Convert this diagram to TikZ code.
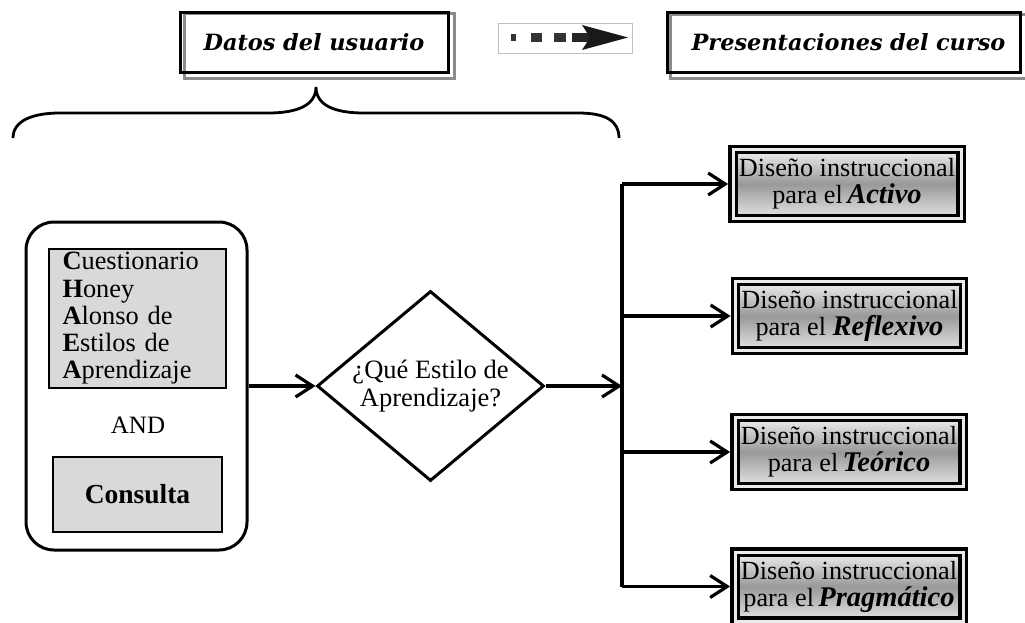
\documentclass[tikz,border=0pt]{standalone}
\usepackage{fontspec}
\setmainfont{Liberation Serif}
\newfontfamily\hdrfont{DejaVu Serif}
\usetikzlibrary{arrows.meta,shapes.geometric,backgrounds}
\newcommand\bwd[1]{{\fontsize{28.5}{29}\selectfont\bfseries\itshape #1}}
\begin{document}
\begin{tikzpicture}[x=1pt,y=-1pt,
  line/.style={line width=3.2pt},
  arr/.style={line width=3.2pt,-{Straight Barb[length=17pt,width=22pt,line width=3.2pt]}},
  hdrbox/.style={draw,line width=3pt,minimum height=60pt,inner sep=0pt,
    font=\hdrfont\fontsize{22.4}{24}\selectfont\bfseries\itshape},
  shadowline/.style={draw=black!45,line width=2.4pt},
  graybox/.style={draw,line width=2.4pt,fill=black!15},
  dbox/.style={draw,line width=3.4pt,double=black!8,double distance=3pt,outer sep=4.9pt,
    top color=black!6,bottom color=black!10,middle color=black!40,
    minimum width=228pt,minimum height=69pt,align=center,inner sep=0pt,
    font=\fontsize{26.2}{27}\selectfont}
]
\useasboundingbox (0,0) rectangle (1025,622);

% header boxes
\node[hdrbox,minimum width=268pt] (datos) at (314,42) {Datos del usuario};
\node[hdrbox,minimum width=353pt,text width=353pt,align=center] (pres) at (843.5,42) {\hspace*{10pt}Presentaciones del curso};
\begin{scope}[on background layer]
  \draw[shadowline] ([xshift=6pt,yshift=-3pt]datos.north west) rectangle ([xshift=5pt,yshift=-5pt]datos.south east);
  \draw[shadowline] ([xshift=5pt,yshift=-4pt]pres.north west) rectangle ([xshift=10pt,yshift=-5pt]pres.south east);
\end{scope}

% dashed arrow icon
\draw[black!25,line width=0.8pt] (498,23) rectangle (632,53);
\fill[black!80] (511,34) rectangle (516,41);
\fill[black!80] (531,33) rectangle (542,42);
\fill[black!80] (554,33) rectangle (566,42);
\fill[black!85] (572,33) rectangle (592,42);
\fill[black!90] (582,25) -- (628,37.5) -- (582,50) -- (590,37.5) -- cycle;

% brace
\draw[line width=2.8pt] (13,138) .. controls (13,121) and (32,113) .. (60,113) -- (268,113)
  .. controls (296,113) and (316,106) .. (316,87)
  .. controls (316,106) and (336,113) .. (364,113) -- (578,113)
  .. controls (606,113) and (619,121) .. (619,138);

% left group
\node[draw,line width=3pt,rounded corners=28pt,minimum width=221pt,minimum height=328pt] (outer) at (136.5,386) {};
\node[graybox,minimum width=177pt,minimum height=139pt,text width=150pt,align=left,
  font=\fontsize{26.4}{27.25}\selectfont] (ques) at (137.5,318.5)
  {\textbf{C}uestionario\\\textbf{H}oney\\\textbf{A}lonso de\\\textbf{E}stilos de\\\textbf{A}prendizaje};
\node[font=\fontsize{25}{27}\selectfont] (and) at (138,425) {AND};
\node[graybox,minimum width=169pt,minimum height=75pt,font=\fontsize{27.5}{28}\selectfont\bfseries] (cons) at (137.5,494.5) {Consulta};

% decision
\node[diamond,draw,line width=3pt,aspect=1.2,minimum width=227pt,minimum height=190pt,
  inner sep=0pt,align=center,font=\fontsize{26.5}{28}\selectfont] (diam) at (430.5,386)
  {¿Qué Estilo de\\Aprendizaje?};

\draw[arr] (outer.east) -- (diam.west);
\coordinate (bus) at (622,386);
\draw[arr] (diam.east) -- (bus);

% right boxes
\node[dbox] (act) at (847,184) {Diseño instruccional\\para el\,\bwd{Activo}};
\node[dbox] (refl) at (849.5,316) {Diseño instruccional\\para el \bwd{Reflexivo}};
\node[dbox] (teo) at (849,452) {Diseño instruccional\\para el\,\bwd{Teórico}};
\node[dbox] (prag) at (849,586.5) {Diseño instruccional\\para el\,\bwd{Pragmático}};

\draw[line] (bus |- act.west) -- (bus |- prag.west);
\foreach \n in {act,refl,teo,prag} \draw[arr] (bus |- \n.west) -- (\n.west);
\end{tikzpicture}
\end{document}
